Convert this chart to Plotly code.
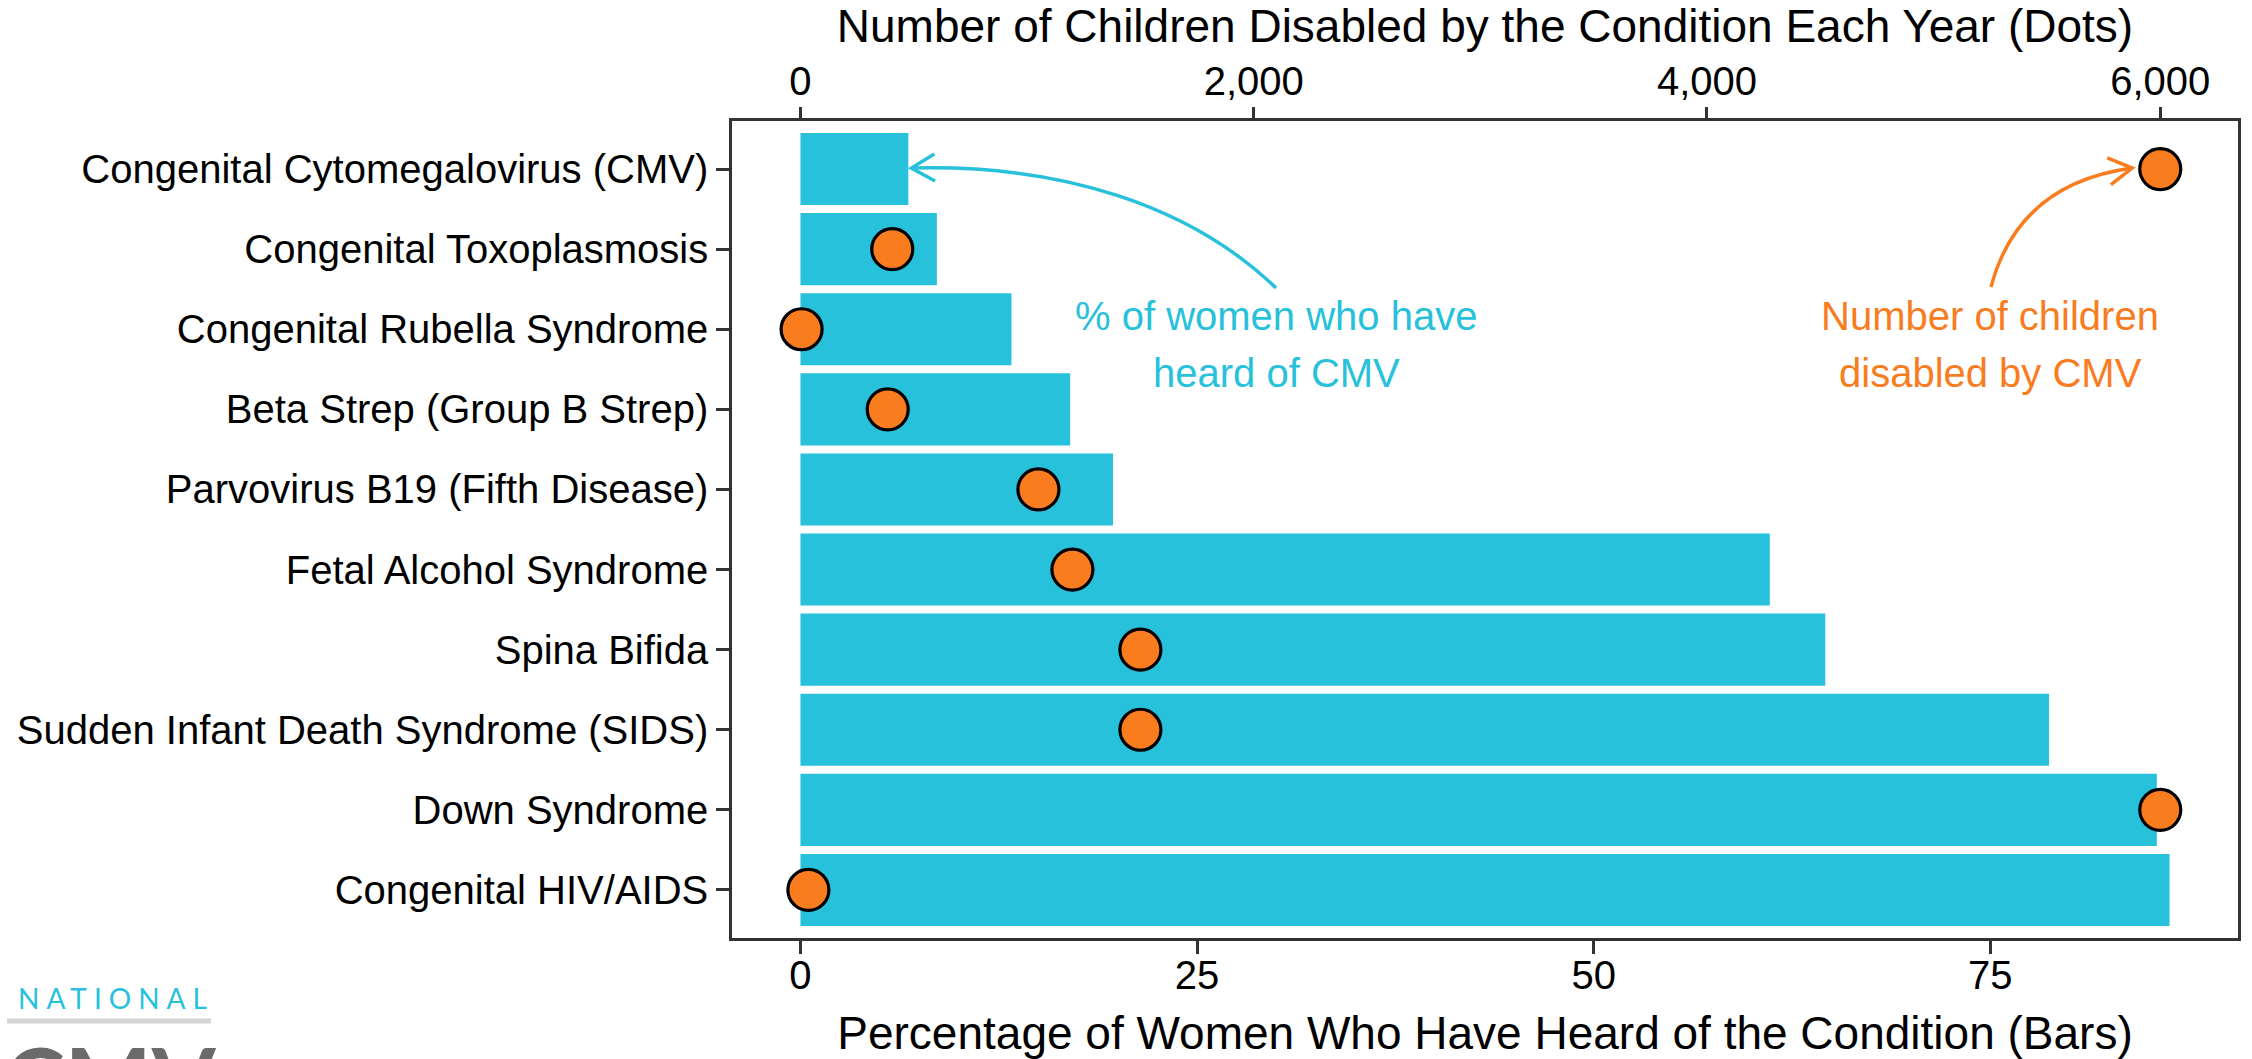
import math
import plotly.graph_objects as go

# ---------------- data ----------------
conditions = [
    "Congenital Cytomegalovirus (CMV)",
    "Congenital Toxoplasmosis",
    "Congenital Rubella Syndrome",
    "Beta Strep (Group B Strep)",
    "Parvovirus B19 (Fifth Disease)",
    "Fetal Alcohol Syndrome",
    "Spina Bifida",
    "Sudden Infant Death Syndrome (SIDS)",
    "Down Syndrome",
    "Congenital HIV/AIDS",
]
pct_heard = [6.8, 8.6, 13.3, 17.0, 19.7, 61.1, 64.6, 78.7, 85.5, 86.3]
children_disabled = [6000, 405, 5, 385, 1050, 1200, 1500, 1500, 6000, 35]
pct_ticks = [0, 25, 50, 75]
count_ticks = [0, 2000, 4000, 6000]
SEC_AXIS_FACTOR = 70  # top axis = bottom axis x 70

# ---------------- style / layout ----------------
BLUE = "#28C1DB"
ORANGE = "#F97D1F"
FONT = "Liberation Sans, Arial, Helvetica, sans-serif"
FW, FH = 2252, 1059
L, T, R, B = 732, 121, 14, 121
W, H = FW - L - R, FH - T - B

rows = list(range(len(conditions)))
m1 = max(pct_heard)
xr = [-0.05 * m1, 1.05 * m1]
x2r = [v * SEC_AXIS_FACTOR for v in xr]
yr = [len(conditions) - 1 + 0.6, -0.6]


def xpct_px(v):
    return L + (v - xr[0]) / (xr[1] - xr[0]) * W


def xcnt_px(v):
    return L + (v - x2r[0]) / (x2r[1] - x2r[0]) * W


def row_py(i):
    return T + (i - yr[1]) / (yr[0] - yr[1]) * H


def px2paper(p):
    return ((p[0] - L) / W, 1 - (p[1] - T) / H)


fig = go.Figure()
fig.add_trace(go.Bar(
    x=pct_heard, y=rows, orientation="h", width=0.9,
    marker=dict(color=BLUE, line=dict(width=0)),
    xaxis="x", yaxis="y", showlegend=False, hoverinfo="x+text",
    text=conditions, textposition="none",
))
fig.add_trace(go.Scatter(
    x=children_disabled, y=rows, mode="markers",
    marker=dict(size=41, color=ORANGE, line=dict(color="black", width=3.2)),
    xaxis="x2", yaxis="y", showlegend=False,
))

axis_common = dict(
    showgrid=False, zeroline=False, ticks="outside", ticklen=13, tickwidth=2.5,
    tickcolor="#333333", tickfont=dict(family=FONT, size=40, color="black"),
)

fig.update_layout(
    width=FW, height=FH,
    margin=dict(l=L, r=R, t=T, b=B, autoexpand=False),
    paper_bgcolor="white", plot_bgcolor="white",
    font=dict(family=FONT, color="black"),
    xaxis=dict(
        range=xr, tickvals=pct_ticks, showline=True, mirror=True,
        linecolor="#333333", linewidth=2.5,
        title=dict(text="Percentage of Women Who Have Heard of the Condition (Bars)",
                   font=dict(family=FONT, size=46, color="black"), standoff=34),
        ticklabelstandoff=-13,
        **axis_common,
    ),
    xaxis2=dict(
        range=x2r, tickvals=count_ticks, tickformat=",d", overlaying="x", side="top",
        showline=False,
        title=dict(text="Number of Children Disabled by the Condition Each Year (Dots)",
                   font=dict(family=FONT, size=46, color="black"), standoff=20),
        ticklabelstandoff=-4,
        **axis_common,
    ),
    yaxis=dict(
        range=yr, tickvals=rows, ticktext=conditions, showline=True, mirror=True,
        linecolor="#333333", linewidth=2.5, ticklabelstandoff=0,
        **axis_common,
    ),
    bargap=0.1,
)

# ---------------- annotations: curved arrows ----------------
def bezier_path(p0, c1, c2, p3):
    a, b, c, d = (px2paper(p) for p in (p0, c1, c2, p3))
    return f"M {a[0]},{a[1]} C {b[0]},{b[1]} {c[0]},{c[1]} {d[0]},{d[1]}"


def head_path(tip, from_pt, length=27, ang=30):
    dx, dy = tip[0] - from_pt[0], tip[1] - from_pt[1]
    n = math.hypot(dx, dy)
    ux, uy = dx / n, dy / n
    pts = []
    for s in (1, -1):
        a = math.radians(ang * s)
        rx = ux * math.cos(a) - uy * math.sin(a)
        ry = ux * math.sin(a) + uy * math.cos(a)
        pts.append((tip[0] - length * rx, tip[1] - length * ry))
    b1, t, b2 = px2paper(pts[0]), px2paper(tip), px2paper(pts[1])
    return f"M {b1[0]},{b1[1]} L {t[0]},{t[1]} L {b2[0]},{b2[1]}"


# blue arrow -> CMV bar end
b_tip = (xpct_px(pct_heard[0]) + 3, row_py(0) - 1)
b_p0, b_c1, b_c2 = (1276, 288), (1190, 205), (1060, 164)
# orange arrow -> CMV dot
o_tip = (xcnt_px(children_disabled[0]) - 28, row_py(0) - 1)
o_p0, o_c1, o_c2 = (1991, 287), (2010, 215), (2060, 178)

shapes = []
for (p0, c1, c2, tip, col) in [(b_p0, b_c1, b_c2, b_tip, BLUE), (o_p0, o_c1, o_c2, o_tip, ORANGE)]:
    shapes.append(dict(type="path", xref="paper", yref="paper", path=bezier_path(p0, c1, c2, tip),
                       line=dict(color=col, width=3.5), fillcolor="rgba(0,0,0,0)", layer="above"))
    shapes.append(dict(type="path", xref="paper", yref="paper", path=head_path(tip, c2),
                       line=dict(color=col, width=3.5), fillcolor="rgba(0,0,0,0)", layer="above"))

# logo separator bar
lb0, lb1 = px2paper((7, 1018.5)), px2paper((211, 1023.5))
shapes.append(dict(type="rect", xref="paper", yref="paper", x0=lb0[0], x1=lb1[0], y0=lb0[1], y1=lb1[1],
                   fillcolor="#d4d4d4", line=dict(width=0), layer="above"))
fig.update_layout(shapes=shapes)

annotations = []
for text, cx, cy, col in [
    ("% of women who have", 1276, 316, BLUE),
    ("heard of CMV", 1276, 373, BLUE),
    ("Number of children", 1990, 316, ORANGE),
    ("disabled by CMV", 1990, 373, ORANGE),
]:
    px, py = px2paper((cx, cy))
    annotations.append(dict(text=text, x=px, y=py, xref="paper", yref="paper", xanchor="center",
                            yanchor="middle", showarrow=False, font=dict(family=FONT, size=40, color=col)))

# logo text
p = px2paper((16, 998))
annotations.append(dict(text='<span style="letter-spacing:7px">NATIONAL</span>', x=p[0], y=p[1],
                        xref="paper", yref="paper", xanchor="left", yanchor="middle", showarrow=False,
                        font=dict(family="Lato, Noto Sans, sans-serif", size=28, color=BLUE)))
p = px2paper((2, 1022))
annotations.append(dict(text="<b>CMV</b>", x=p[0], y=p[1], xref="paper", yref="paper", xanchor="left",
                        yanchor="top", showarrow=False,
                        font=dict(family="Lato, Noto Sans, sans-serif", size=92, color="#6b6b6b")))
fig.update_layout(annotations=annotations)

fig.write_html("out.html")
